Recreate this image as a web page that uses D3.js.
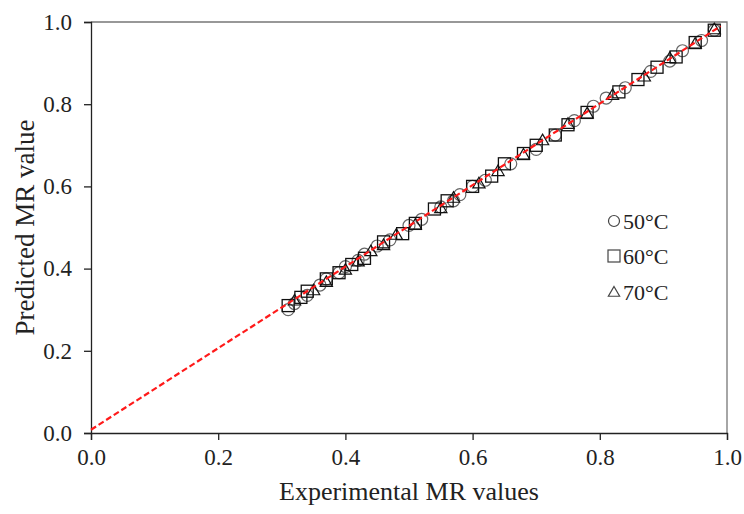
<!DOCTYPE html>
<html>
<head>
<meta charset="utf-8">
<script src="https://d3js.org/d3.v7.min.js"></script>
<style>
  body { margin: 0; background: #fff; }
  text { font-family: "Liberation Serif", "Times New Roman", serif; fill: #222; }
</style>
</head>
<body>
<svg id="chart" width="744" height="514"></svg>
<script>
// 50°C
var exp50 = [0.31, 0.32, 0.34, 0.36, 0.37, 0.39, 0.40, 0.42, 0.43, 0.45, 0.47, 0.50, 0.52, 0.55, 0.57, 0.58, 0.60, 0.62, 0.66, 0.70, 0.73, 0.76, 0.79, 0.81, 0.84, 0.88, 0.91, 0.93, 0.96, 0.98];
var pred50 = [0.30, 0.315, 0.335, 0.36, 0.375, 0.39, 0.405, 0.42, 0.435, 0.455, 0.47, 0.505, 0.52, 0.55, 0.565, 0.58, 0.60, 0.615, 0.655, 0.69, 0.725, 0.76, 0.795, 0.815, 0.84, 0.88, 0.905, 0.93, 0.955, 0.98];
// 60°C
var exp60 = [0.31, 0.33, 0.34, 0.37, 0.39, 0.41, 0.43, 0.46, 0.49, 0.51, 0.54, 0.56, 0.60, 0.63, 0.65, 0.68, 0.70, 0.73, 0.75, 0.78, 0.83, 0.86, 0.89, 0.92, 0.95, 0.98];
var pred60 = [0.31, 0.33, 0.345, 0.375, 0.39, 0.41, 0.425, 0.465, 0.485, 0.51, 0.545, 0.565, 0.60, 0.625, 0.655, 0.68, 0.70, 0.725, 0.75, 0.78, 0.83, 0.86, 0.89, 0.915, 0.95, 0.98];
// 70°C
var exp70 = [0.32, 0.35, 0.37, 0.40, 0.42, 0.44, 0.46, 0.48, 0.51, 0.55, 0.57, 0.61, 0.64, 0.68, 0.71, 0.75, 0.78, 0.82, 0.87, 0.91, 0.95, 0.98];
var pred70 = [0.32, 0.345, 0.365, 0.395, 0.415, 0.44, 0.455, 0.48, 0.505, 0.545, 0.57, 0.605, 0.635, 0.675, 0.71, 0.75, 0.775, 0.82, 0.865, 0.91, 0.945, 0.98];

var legendLabels = ["50°C", "60°C", "70°C"];
var ticks = [0, 0.2, 0.4, 0.6, 0.8, 1.0];
var fitLine = [[0, 0.008], [0.99, 0.99]];

var svg = d3.select("#chart");
// plot box edges (named to avoid window.top)
var pLeft = 91, pRight = 727, pTop = 22, pBottom = 433;
var x = d3.scaleLinear().domain([0, 1]).range([pLeft, pRight]);
var y = d3.scaleLinear().domain([0, 1]).range([pBottom, pTop]);

// frame (top and right)
svg.append("path")
  .attr("d", "M" + pLeft + "," + pTop + "H" + pRight + "V" + pBottom)
  .attr("fill", "none").attr("stroke", "#777").attr("stroke-width", 1.3);

// axes
var xAxis = svg.append("g").attr("transform", "translate(0," + pBottom + ")")
  .call(d3.axisBottom(x).tickValues(ticks).tickFormat(d3.format(".1f")).tickSizeOuter(0).tickSize(7).tickPadding(9));
var yAxis = svg.append("g").attr("transform", "translate(" + pLeft + ",0)")
  .call(d3.axisLeft(y).tickValues(ticks).tickFormat(d3.format(".1f")).tickSizeOuter(0).tickSize(7).tickPadding(12));
[xAxis, yAxis].forEach(function(a) {
  a.select(".domain").attr("stroke", "#222").attr("stroke-width", 1.3);
  a.selectAll(".tick line").attr("stroke", "#222").attr("stroke-width", 1.3);
  a.selectAll(".tick text").attr("font-size", "23px").attr("fill", "#222")
    .style("font-family", "'Liberation Serif', serif");
});

// markers
var g = svg.append("g");
g.selectAll(".c50").data(exp50).enter().append("circle")
  .attr("cx", function(d) { return x(d); })
  .attr("cy", function(d, i) { return y(pred50[i]); })
  .attr("r", 6).attr("fill", "none").attr("stroke", "#666").attr("stroke-width", 1.2);
g.selectAll(".s60").data(exp60).enter().append("rect")
  .attr("x", function(d) { return x(d) - 6; })
  .attr("y", function(d, i) { return y(pred60[i]) - 6; })
  .attr("width", 12).attr("height", 12)
  .attr("fill", "none").attr("stroke", "#111").attr("stroke-width", 1.3);
var tri = d3.symbol().type(d3.symbolTriangle).size(65);
g.selectAll(".t70").data(exp70).enter().append("path")
  .attr("d", tri)
  .attr("transform", function(d, i) { return "translate(" + x(d) + "," + y(pred70[i]) + ")"; })
  .attr("fill", "none").attr("stroke", "#111").attr("stroke-width", 1.2);

// fitted line
svg.append("path")
  .datum(fitLine)
  .attr("d", d3.line().x(function(d) { return x(d[0]); }).y(function(d) { return y(d[1]); }))
  .attr("fill", "none").attr("stroke", "#ff1a1a").attr("stroke-width", 2.2)
  .attr("stroke-dasharray", "6,3");

// legend
var lg = svg.append("g");
var legendY = [221, 256, 292];
lg.append("circle").attr("cx", 614).attr("cy", legendY[0]).attr("r", 5.5)
  .attr("fill", "none").attr("stroke", "#444").attr("stroke-width", 1.2);
lg.append("rect").attr("x", 608).attr("y", legendY[1] - 6).attr("width", 12).attr("height", 12)
  .attr("fill", "none").attr("stroke", "#444").attr("stroke-width", 1.2);
lg.append("path").attr("d", d3.symbol().type(d3.symbolTriangle).size(55))
  .attr("transform", "translate(614," + (legendY[2] + 1) + ")")
  .attr("fill", "none").attr("stroke", "#444").attr("stroke-width", 1.2);
legendLabels.forEach(function(t, i) {
  lg.append("text").attr("x", 623).attr("y", legendY[i] + 8)
    .attr("font-size", "22px").text(t);
});

// axis labels
svg.append("text").attr("x", (pLeft + pRight) / 2).attr("y", 500)
  .attr("text-anchor", "middle").attr("font-size", "26px").text("Experimental MR values");
svg.append("text").attr("transform", "rotate(-90)")
  .attr("x", -(pTop + pBottom) / 2).attr("y", 34)
  .attr("text-anchor", "middle").attr("font-size", "27px").text("Predicted MR value");
</script>
</body>
</html>
